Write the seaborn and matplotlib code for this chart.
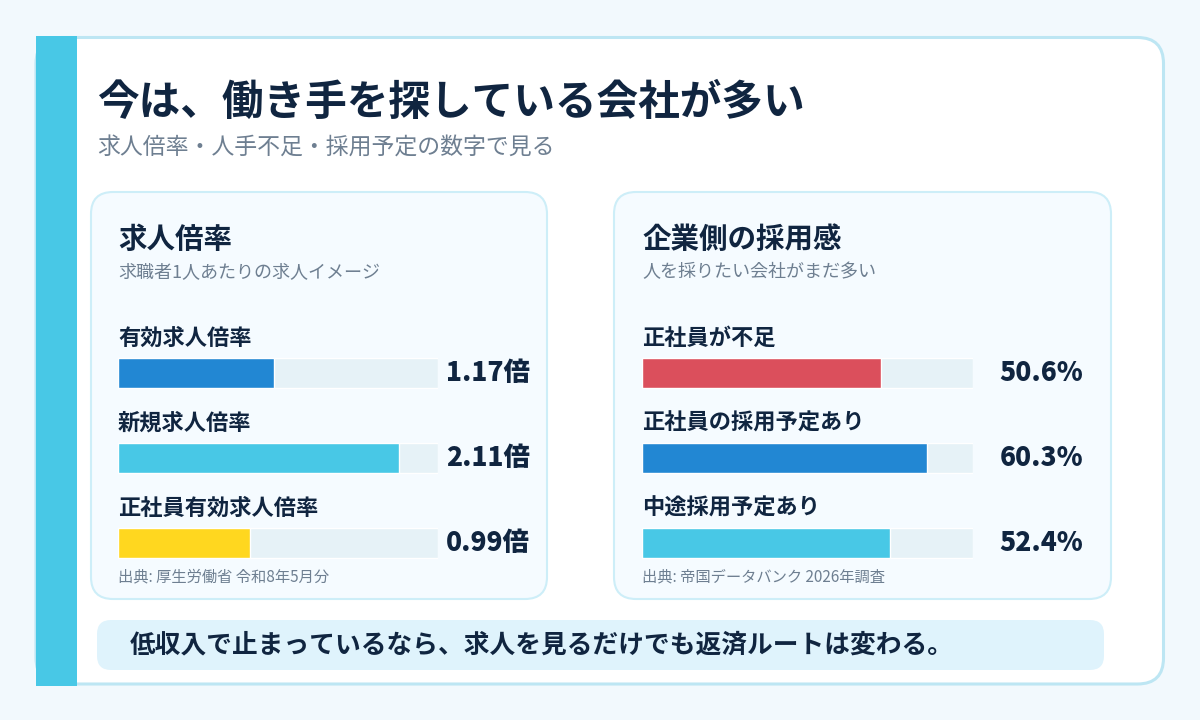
#importing libraries
import seaborn as sns
import matplotlib.pyplot as plt
from matplotlib.patches import FancyBboxPatch, Rectangle

#chart data
left_labels = ['有効求人倍率', '新規求人倍率', '正社員有効求人倍率']
left_values = [1.17, 2.11, 0.99]
left_texts = ['1.17倍', '2.11倍', '0.99倍']
left_colors = ['#2287d3', '#48c8e6', '#ffd71f']
left_max = 2.4

right_labels = ['正社員が不足', '正社員の採用予定あり', '中途採用予定あり']
right_values = [50.6, 60.3, 52.4]
right_texts = ['50.6%', '60.3%', '52.4%']
right_colors = ['#db4f5c', '#2287d3', '#48c8e6']
right_max = 70

title = '今は、働き手を探している会社が多い'
subtitle = '求人倍率・人手不足・採用予定の数字で見る'
left_title = '求人倍率'
left_sub = '求職者1人あたりの求人イメージ'
left_source = '出典: 厚生労働省 令和8年5月分'
right_title = '企業側の採用感'
right_sub = '人を採りたい会社がまだ多い'
right_source = '出典: 帝国データバンク 2026年調査'
banner = '低収入で止まっているなら、求人を見るだけでも返済ルートは変わる。'

sns.set_theme(style='white')
plt.rcParams['font.family'] = ['Noto Sans CJK JP', 'DejaVu Sans']

NAVY = '#102540'
GRAY = '#6e7f91'
TRACK = '#e6f2f7'
W, H = 1200, 720

fig = plt.figure(figsize=(12, 7.2), dpi=100)
fig.patch.set_facecolor('#f2f9fd')

#background axes in pixel units
bg = fig.add_axes([0, 0, 1, 1])
bg.set_xlim(0, W)
bg.set_ylim(H, 0)
bg.axis('off')

def rbox(x0, y0, x1, y1, r, fc, ec='none', lw=0):
    bg.add_patch(FancyBboxPatch((x0, y0), x1 - x0, y1 - y0,
                                boxstyle=f'round,pad=0,rounding_size={r}',
                                fc=fc, ec=ec, lw=lw))

#main card and accent bar
rbox(36, 37.5, 1163.5, 684, 26, 'white', '#bde6f3', 2.2)
bg.add_patch(Rectangle((36, 36), 41, 650, fc='#48c8e6', ec='none'))

bg.text(97, 103, title, fontsize=30, fontweight='bold', color=NAVY, va='center')
bg.text(97, 148, subtitle, fontsize=16.5, color=GRAY, va='center')

#panels
rbox(91, 192, 547, 599, 22, '#f5fbff', '#cdeef8', 1.5)
rbox(614, 192, 1111, 599, 22, '#f5fbff', '#cdeef8', 1.5)

bg.text(118, 240, left_title, fontsize=20.5, fontweight='bold', color=NAVY, va='center')
bg.text(118, 272, left_sub, fontsize=13, color=GRAY, va='center')
bg.text(118, 577, left_source, fontsize=11, color=GRAY, va='center')
bg.text(642, 240, right_title, fontsize=20.5, fontweight='bold', color=NAVY, va='center')
bg.text(642, 272, right_sub, fontsize=13, color=GRAY, va='center')
bg.text(642, 577, right_source, fontsize=11, color=GRAY, va='center')

#banner
rbox(97, 620, 1104, 670, 14, '#dff3fc')
bg.text(130, 645, banner, fontsize=18.5, fontweight='bold', color=NAVY, va='center')

#bar panels
def bar_panel(x0, x1, labels, values, texts, colors, vmax, text_x):
    top, bottom = 330.5, 585.5
    ax = fig.add_axes([x0 / W, 1 - bottom / H, (x1 - x0) / W, (bottom - top) / H])
    ax.patch.set_alpha(0)
    sns.barplot(x=[vmax] * len(labels), y=labels, color=TRACK, width=0.36,
                saturation=1, ax=ax)
    sns.barplot(x=values, y=labels, hue=labels, palette=colors, width=0.36,
                saturation=1, legend=False, ax=ax)
    ax.set_xlim(0, vmax)
    ax.set_ylim(len(labels) - 0.5, -0.5)
    ax.axis('off')
    for i, (lab, txt) in enumerate(zip(labels, texts)):
        ax.text(0, i - 0.41, lab, fontsize=16, fontweight='bold', color=NAVY,
                va='center', ha='left', clip_on=False)
        ax.text(text_x, i, txt, fontsize=19, fontweight='heavy', color=NAVY,
                va='center', ha='left', clip_on=False,
                transform=ax.get_yaxis_transform())
    return ax

bar_panel(118, 438, left_labels, left_values, left_texts, left_colors, left_max, 1.025)
bar_panel(642, 973, right_labels, right_values, right_texts, right_colors, right_max, 1.08)

plt.savefig('out.png', dpi=100, facecolor=fig.get_facecolor())
